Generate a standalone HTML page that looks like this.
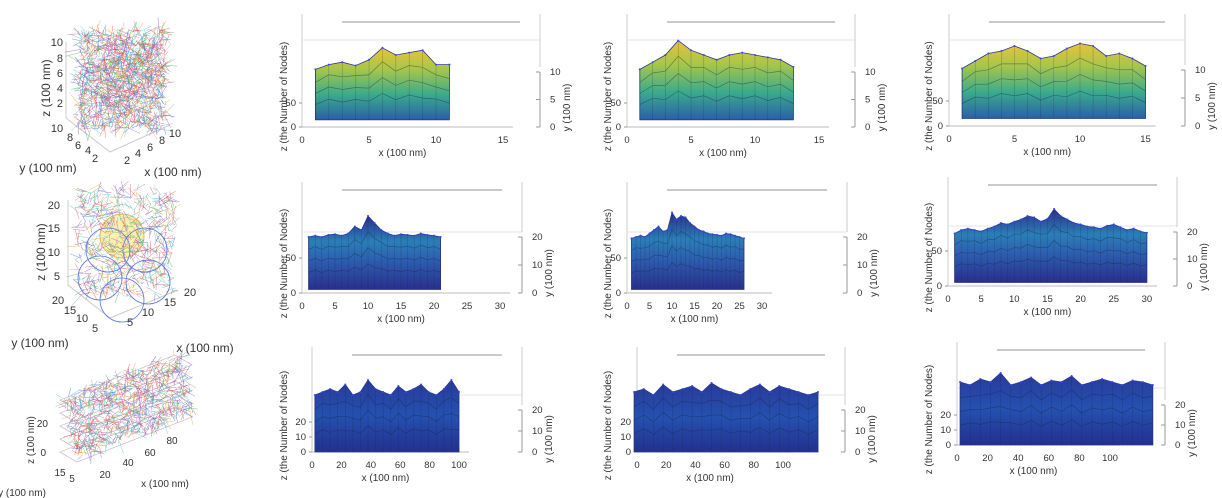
<!DOCTYPE html>
<html><head><meta charset="utf-8"><style>
body{margin:0;background:#fff;}
svg{display:block;font-family:"Liberation Sans",sans-serif;}
text{fill:#333;}
</style></head><body>
<svg id="fig" width="1222" height="498" viewBox="0 0 1222 498">
<defs>
<linearGradient id="gy" x1="0" y1="0" x2="0" y2="1"><stop offset="0" stop-color="#e8c23a"/><stop offset="0.3" stop-color="#a7c64a"/><stop offset="0.65" stop-color="#3bab8c"/><stop offset="1" stop-color="#2a5fa8"/></linearGradient>
<linearGradient id="gb" x1="0" y1="0" x2="0" y2="1"><stop offset="0" stop-color="#2c2f8a"/><stop offset="0.35" stop-color="#2a7fb8"/><stop offset="0.6" stop-color="#2c5fb0"/><stop offset="1" stop-color="#2a2f8c"/></linearGradient>
<linearGradient id="gd" x1="0" y1="0" x2="0" y2="1"><stop offset="0" stop-color="#2a3a9a"/><stop offset="0.5" stop-color="#2451b0"/><stop offset="1" stop-color="#23308e"/></linearGradient>
</defs>
</svg>
<script>
// ---- data ----
const xTicksR1=[0,5,10,15];
const xTicksR2=[0,5,10,15,20,25,30];
const xTicksR3=[0,20,40,60,80,100];
const yTicksR1=[0,5,10];
const yTicksR23=[0,10,20];
const zTicksR12=[0,50];
const zTicksR3=[0,10,20];
// top-edge profiles (z, number of nodes)
const prof11=[120,130,135,128,140,165,150,155,160,130,130];
const prof12=[120,135,150,180,160,150,140,150,155,150,145,140,125];
const prof13=[115,130,145,150,160,150,135,140,155,165,160,140,145,135,120];
const prof21=[80,82,80,83,84,82,85,95,90,110,100,90,85,82,84,83,82,85,83,82,80];
const prof22=[78,80,82,80,85,90,95,88,90,115,105,110,108,100,95,90,88,85,84,83,82,85,84,82,80,78];
const prof23=[75,80,82,80,78,82,85,90,88,92,95,100,98,92,96,110,100,95,90,88,85,84,82,86,88,84,80,82,78,76];
const prof31=[38,40,42,40,45,38,40,48,42,40,38,44,40,42,45,40,38,42,48,40];
const prof32=[40,42,38,45,40,42,44,40,46,42,40,38,42,45,40,44,42,40,38,40];
const prof33=[42,40,44,42,48,40,42,45,40,43,42,46,40,42,44,42,40,43,42,40];

const svg=document.getElementById('fig');
const NS='http://www.w3.org/2000/svg';
function mk(tag,attrs,parent){const e=document.createElementNS(NS,tag);for(const k in attrs)e.setAttribute(k,attrs[k]);(parent||svg).appendChild(e);return e;}
function txt(x,y,s,size,anchor,rot,parent){const t=mk('text',{x:x,y:y,'font-size':size,'text-anchor':anchor||'middle'},parent);if(rot)t.setAttribute('transform','rotate(-90 '+x+' '+y+')');t.textContent=s;return t;}

const panels=[
 {id:'r1c1',x0:302,ux:13.4,base:127,z50:103,xt:xTicksR1,zt:zTicksR12,yt:yTicksR1,ra:540,ytop:72,ymax:10,prof:prof11,sx0:1,sx1:11,bot:15,g:'gy',boxT:22,boxM:40,zl:287},
 {id:'r1c2',x0:627,ux:12.8,base:127,z50:103,xt:xTicksR1,zt:zTicksR12,yt:yTicksR1,ra:855,ytop:72,ymax:10,prof:prof12,sx0:1,sx1:13,bot:15,g:'gy',boxT:22,boxM:40,zl:611},
 {id:'r1c3',x0:949,ux:13.1,base:126,z50:101,xt:xTicksR1,zt:zTicksR12,yt:yTicksR1,ra:1185,ytop:70,ymax:10,prof:prof13,sx0:1,sx1:15,bot:15,g:'gy',boxT:22,boxM:40,zl:932},
 {id:'r2c1',x0:302,ux:6.6,base:293,z50:258,xt:xTicksR2,zt:zTicksR12,yt:yTicksR23,ra:522,ytop:237,ymax:20,prof:prof21,sx0:1,sx1:21,bot:5,g:'gb',boxT:190,boxM:232,zl:287},
 {id:'r2c2',x0:627,ux:4.5,base:293,z50:258,xt:xTicksR2,zt:zTicksR12,yt:yTicksR23,ra:847,ytop:237,ymax:20,prof:prof22,sx0:1,sx1:26,bot:5,g:'gb',boxT:190,boxM:232,zl:611},
 {id:'r2c3',x0:948,ux:6.63,base:286,z50:251,xt:xTicksR2,zt:zTicksR12,yt:yTicksR23,ra:1177,ytop:232,ymax:20,prof:prof23,sx0:1,sx1:30,bot:5,g:'gb',boxT:185,boxM:226,zl:932},
 {id:'r3c1',x0:312,ux:1.47,base:452,z50:377,xt:xTicksR3,zt:zTicksR3,yt:yTicksR23,ra:522,ytop:410,ymax:20,prof:prof31,sx0:2,sx1:100,bot:0,g:'gd',boxT:355,boxM:395,zl:287},
 {id:'r3c2',x0:637,ux:1.46,base:452,z50:377,xt:xTicksR3,zt:zTicksR3,yt:yTicksR23,ra:845,ytop:410,ymax:20,prof:prof32,sx0:-2,sx1:124,bot:0,g:'gd',boxT:355,boxM:395,zl:611},
 {id:'r3c3',x0:957,ux:1.53,base:445,z50:370,xt:xTicksR3,zt:zTicksR3,yt:yTicksR23,ra:1165,ytop:405,ymax:20,prof:prof33,sx0:2,sx1:128,bot:0,g:'gd',boxT:350,boxM:388,zl:932}
];

panels.forEach(p=>{
 const g=mk('g',{});
 
 
 const X=v=>p.x0+v*p.ux;
 const zs=(p.base-p.z50)/50;
 const Z=v=>p.base-v*zs;
 const xmax=p.xt[p.xt.length-1];
 mk('line',{x1:X(0),y1:p.boxT-8,x2:X(0),y2:p.base,stroke:'#ccc','stroke-width':1},g);
 mk('line',{x1:X(0)+40,y1:p.boxT,x2:p.ra-20,y2:p.boxT,stroke:'#aaa','stroke-width':1.2},g);
 mk('line',{x1:X(0),y1:p.boxM,x2:p.ra,y2:p.boxM,stroke:'#e4e4e4','stroke-width':1},g);
 mk('line',{x1:p.ra,y1:p.boxT-8,x2:p.ra,y2:p.ytop-5,stroke:'#ccc','stroke-width':1},g);
 mk('line',{x1:X(0),y1:p.base,x2:X(xmax)+10,y2:p.base,stroke:'#bbb','stroke-width':1},g);
 const xa=mk('g',{},g);
 p.xt.forEach(t=>{txt(X(t),p.base+16,String(t),9.5,'middle',0,xa);});
 txt((X(0)+X(xmax))/2,p.base+29,'x (100 nm)',10,'middle',0,xa);
 const za=mk('g',{},g);
 p.zt.forEach(t=>{txt(X(0)-6,Z(t)+3,String(t),9.5,'end',0,za);mk('line',{x1:X(0)-3,y1:Z(t),x2:X(0),y2:Z(t),stroke:'#999'},za);});
 txt(p.zl,(p.base+p.boxT)/2+22,'z (the Number of Nodes)',10,'middle',1,za);
 const ya=mk('g',{},g);
 mk('line',{x1:p.ra,y1:p.ytop,x2:p.ra,y2:p.base,stroke:'#999'},ya);
 p.yt.forEach(t=>{const yy=p.base-(p.base-p.ytop)*t/p.ymax;mk('line',{x1:p.ra-4,y1:yy,x2:p.ra,y2:yy,stroke:'#999'},ya);txt(p.ra+10,yy+3,String(t),9.5,'start',0,ya);});
 txt(p.ra+30,(p.base+p.ytop)/2+8,'y (100 nm)',10,'middle',1,ya);
 const n=p.prof.length;
 const xs=i=>X(p.sx0+(p.sx1-p.sx0)*i/(n-1));
 let d='M'+xs(0)+','+Z(p.bot);
 p.prof.forEach((v,i)=>{d+=' L'+xs(i).toFixed(1)+','+Z(v).toFixed(1);});
 d+=' L'+xs(n-1)+','+Z(p.bot)+' Z';
 const s=mk('path',{d:d,fill:'url(#'+p.g+')',stroke:'#2a3a8a','stroke-width':0.8},g);
 
 
 const m=mk('g',{stroke:'#1a2040','stroke-width':0.4,opacity:0.45},g);
 
 
 for(let i=0;i<n;i++){mk('line',{x1:xs(i),y1:Z(p.prof[i]),x2:xs(i),y2:Z(p.bot)},m);}
 for(let k=1;k<4;k++){let dd='';p.prof.forEach((v,i)=>{const zz=p.bot+(v-p.bot)*(1-k*0.22)+(i%2?4:-4)*(p.g=='gy'?1:0.3);dd+=(i?' L':'M')+xs(i).toFixed(1)+','+Z(zz).toFixed(1);});mk('path',{d:dd,fill:'none','stroke-width':0.7},m);}
 for(let i=0;i<n;i++){mk('circle',{cx:xs(i),cy:Z(p.prof[i]),r:1,fill:'#3344ff',stroke:'none'},g);}
});

// ---- left column 3D fiber plots (decorative texture) ----
const cols=['#e04a3a','#3a7ad8','#e8a030','#50b050','#9a50c0','#40c0d0','#d05090'];
let seed=7;function rnd(){seed=(seed*16807)%2147483647;return seed/2147483647;}
function fibers(parent,name,pts,count,lmax){
 const g=mk('g',{},parent);
 for(let i=0;i<count;i++){const u=rnd(),v=rnd();
  const x=pts.o[0]+u*pts.a[0]+v*pts.b[0],y=pts.o[1]+u*pts.a[1]+v*pts.b[1];
  const an=rnd()*6.28,l=3+rnd()*lmax;
  mk('line',{x1:x,y1:y,x2:x+Math.cos(an)*l,y2:y+Math.sin(an)*l,stroke:cols[i%7],'stroke-width':0.5,opacity:0.75},g);}
}
(function(){const g=mk('g',{});
 mk('polyline',{points:'66,42 66,118 110,152 170,125',fill:'none',stroke:'#ccc'},g);
 fibers(g,'fiber-lines-cube',{o:[78,30],a:[88,0],b:[0,100]},1300,12);
 fibers(g,'fiber-lines-cube-side',{o:[72,75],a:[40,38],b:[60,-40]},400,10);
 [[10,42],[8,58],[6,73],[4,88],[2,103]].forEach(t=>txt(63,t[1]+4,String(t[0]),11,'end',0,g));
 txt(50,88,'z (100 nm)',12,'middle',1,g);
 [[10,57,128],[8,70,137],[6,78,145],[4,88,150],[2,95,158]].forEach(t=>txt(t[1],t[2]+4,String(t[0]),11,'middle',0,g));
 [[2,127,160],[4,138,153],[6,150,147],[8,162,140],[10,175,133]].forEach(t=>txt(t[1],t[2]+4,String(t[0]),11,'middle',0,g));
 txt(48,172,'y (100 nm)',12,'middle',0,g);txt(173,176,'x (100 nm)',12,'middle',0,g);
})();
(function(){const g=mk('g',{});
 mk('polyline',{points:'68,200 68,285 110,318 178,290',fill:'none',stroke:'#ccc'},g);
 mk('circle',{cx:122,cy:236,r:22,fill:'#fbf0b0',stroke:'#d8c060'},g);
 fibers(g,'fiber-lines-spheres',{o:[78,190],a:[95,0],b:[0,105]},700,12);
 [[100,278],[148,282],[108,250],[145,250],[122,300]].forEach(c=>mk('circle',{cx:c[0],cy:c[1],r:22,fill:'none',stroke:'#5a7ad8','stroke-width':0.8},g));
 [[20,205],[15,228],[10,252],[5,276]].forEach(t=>txt(60,t[1]+4,String(t[0]),11,'end',0,g));
 txt(45,252,'z (100 nm)',12,'middle',1,g);
 [[20,58,300],[15,70,310],[10,82,318],[5,95,328]].forEach(t=>txt(t[1],t[2]+4,String(t[0]),11,'middle',0,g));
 [[5,130,322],[10,148,312],[15,170,302],[20,190,292]].forEach(t=>txt(t[1],t[2]+4,String(t[0]),11,'middle',0,g));
 txt(40,347,'y (100 nm)',12,'middle',0,g);txt(205,352,'x (100 nm)',12,'middle',0,g);
})();
(function(){const g=mk('g',{});
 for(let k=0;k<5;k++){mk('polygon',{points:'60,'+(400+k*13)+' 175,'+(355+k*13)+' 192,'+(365+k*13)+' 77,'+(410+k*13),fill:'none',stroke:'#c8a8c8','stroke-width':0.6},g);}
 fibers(g,'fiber-lines-layers',{o:[62,398],a:[118,-45],b:[15,60]},1100,10);
 txt(48,427,'20',10,'end',0,g);txt(46,456,'0',10,'end',0,g);
 txt(34,440,'z (100 nm)',10,'middle',1,g);
 txt(60,476,'15',10,'middle',0,g);txt(72,482,'5',10,'middle',0,g);
 [[20,105,474],[40,128,462],[60,150,452],[80,172,440]].forEach(t=>txt(t[1],t[2]+4,String(t[0]),10,'middle',0,g));
 txt(22,496,'y (100 nm)',10,'middle',0,g);txt(165,487,'x (100 nm)',10,'middle',0,g);
})();
</script>
</body></html>
